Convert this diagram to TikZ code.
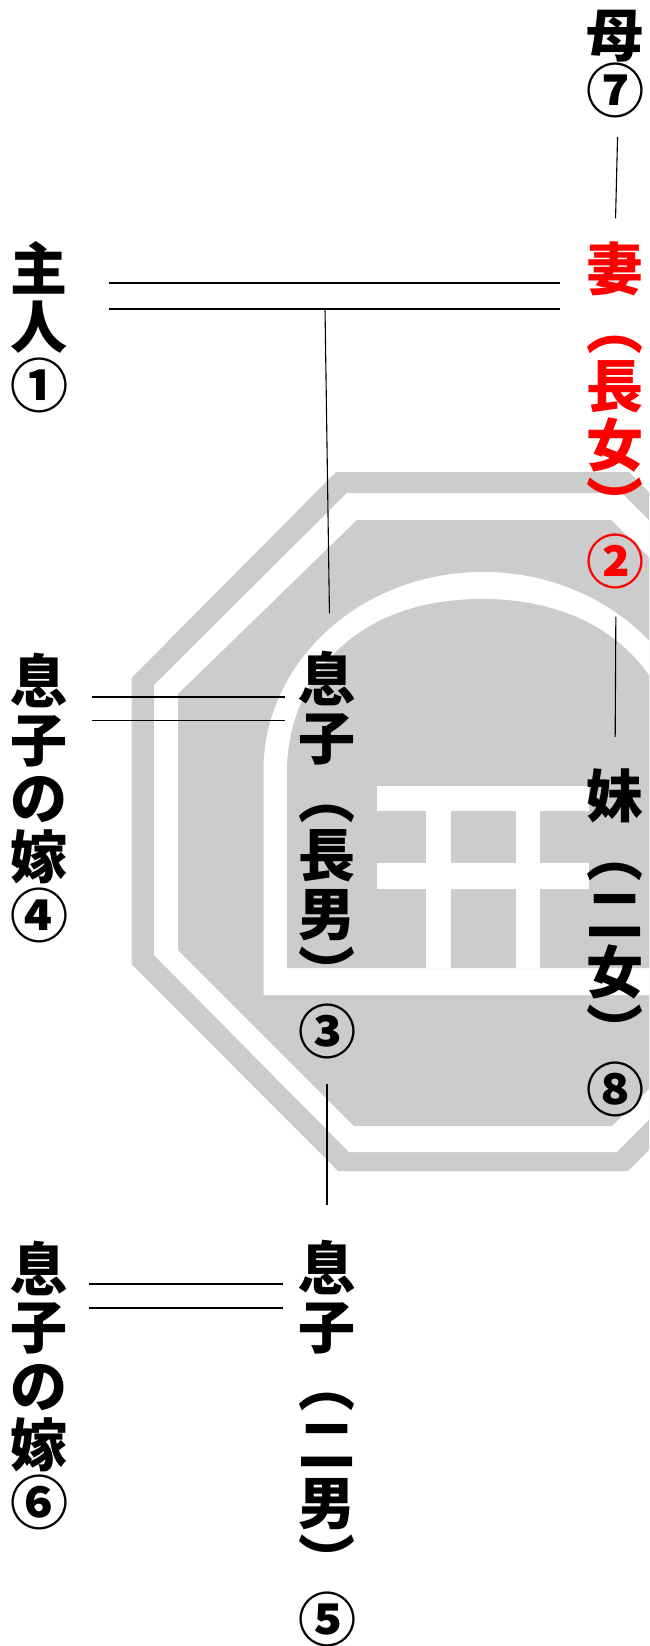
\documentclass[tikz,border=0pt]{standalone}
\usepackage{fontspec}
\usepackage{xcolor}
\newfontfamily\jpfont{Noto Sans CJK JP}[BoldFont={Noto Sans CJK JP Black}]
\newfontfamily\ringfont{Noto Sans CJK JP}
\definecolor{crest}{HTML}{CCCCCC}
\newcommand{\ringed}[1]{{\ringfont\bfseries\fontsize{58}{58}\selectfont #1}}
\tikzset{
  person/.style={
    font=\jpfont\bfseries\fontsize{57}{#1}\selectfont,
    align=center,
    inner sep=0pt,
  },
  person/.default=58.7,
  tie/.style={
    draw=black,
    line width=1.1pt,
  },
}

\begin{document}
\begin{tikzpicture}[x=1pt,y=-1pt]
    \useasboundingbox (0,0) rectangle (649,1646);
    \clip (0,0) rectangle (649,1646);

    % crest behind the tree
    \fill [crest] (336,472) -- (629,472) -- (834,678) -- (834,964) -- (628,1171) -- (338,1171) -- (131.5,964) -- (131.5,678) -- cycle;
    \fill [white] (347,493) -- (622,493) -- (812,685) -- (812,955) -- (617,1152) -- (349,1152) -- (154,955) -- (154,685) -- cycle;
    \fill [crest] (357,520) -- (611,520) -- (788,694) -- (788,950) -- (612,1126) -- (354,1126) -- (178,950) -- (178,694) -- cycle;
    \fill [white] (263.5,995) -- (263.5,771) arc [start angle=180, end angle=360, x radius=219.5, y radius=199] -- (702.5,995) -- cycle;
    \fill [crest] (287,968) -- (287,771) .. controls (287,690) and (345,599) .. (482,599) .. controls (619,599) and (679,690) .. (679,771) -- (679,968) -- cycle;
    \fill [white] (377,786) rectangle (589,811);
    \fill [white] (377,863) rectangle (589,889);
    \fill [white] (426,786) rectangle (451,968);
    \fill [white] (516,786) rectangle (540,968);

    \node [person] (master) at (39,327) {主\\人\\\ringed{①}};
    \node [person=56] (mother) at (615,64) {母\\\ringed{⑦}};
    \node [person, text=red] (wife) at (615,415.5) {妻\\︵\\長\\女\\︶\\\ringed{②}};
    \node [person] (sister) at (615,943) {妹\\︵\\二\\女\\︶\\\ringed{⑧}};
    \node [person] (firstson) at (327,855) {息\\子\\︵\\長\\男\\︶\\\ringed{③}};
    \node [person] (firstbride) at (39,798) {息\\子\\の\\嫁\\\ringed{④}};
    \node [person] (secondson) at (327,1443.5) {息\\子\\︵\\二\\男\\︶\\\ringed{⑤}};
    \node [person] (secondbride) at (39,1385.5) {息\\子\\の\\嫁\\\ringed{⑥}};

    \draw [tie, shorten <=40.5pt, shorten >=25.5pt] ([yshift=44pt]master.east) -- ([yshift=132.5pt]wife.west);
    \draw [tie, shorten <=40.5pt, shorten >=25.5pt] ([yshift=18pt]master.east) -- ([yshift=106.5pt]wife.west);
    \draw [tie, shorten <=23.5pt, shorten >=12.5pt] ([yshift=101pt]firstbride.east) -- ([yshift=158pt]firstson.west);
    \draw [tie, shorten <=23.5pt, shorten >=12.5pt] ([yshift=77.5pt]firstbride.east) -- ([yshift=134.5pt]firstson.west);
    \draw [tie, shorten <=20.5pt, shorten >=14.5pt] ([yshift=101.5pt]secondbride.east) -- ([yshift=159.5pt]secondson.west);
    \draw [tie, shorten <=20.5pt, shorten >=14.5pt] ([yshift=77.5pt]secondbride.east) -- ([yshift=135.5pt]secondson.west);

    \draw [tie, shorten <=19pt, shorten >=23pt] ([xshift=3pt]mother.south) -- (wife.north);
    \draw [tie, shorten <=27pt, shorten >=32pt] ([xshift=1pt]wife.south) -- (sister.north);
    \draw [tie, shorten <=25pt, shorten >=35pt] (firstson.south) -- (secondson.north);
    \coordinate (drop) at (325,308);
    \draw [tie, shorten >=38pt] (drop) -- ([xshift=3pt]firstson.north);
\end{tikzpicture}
\end{document}
